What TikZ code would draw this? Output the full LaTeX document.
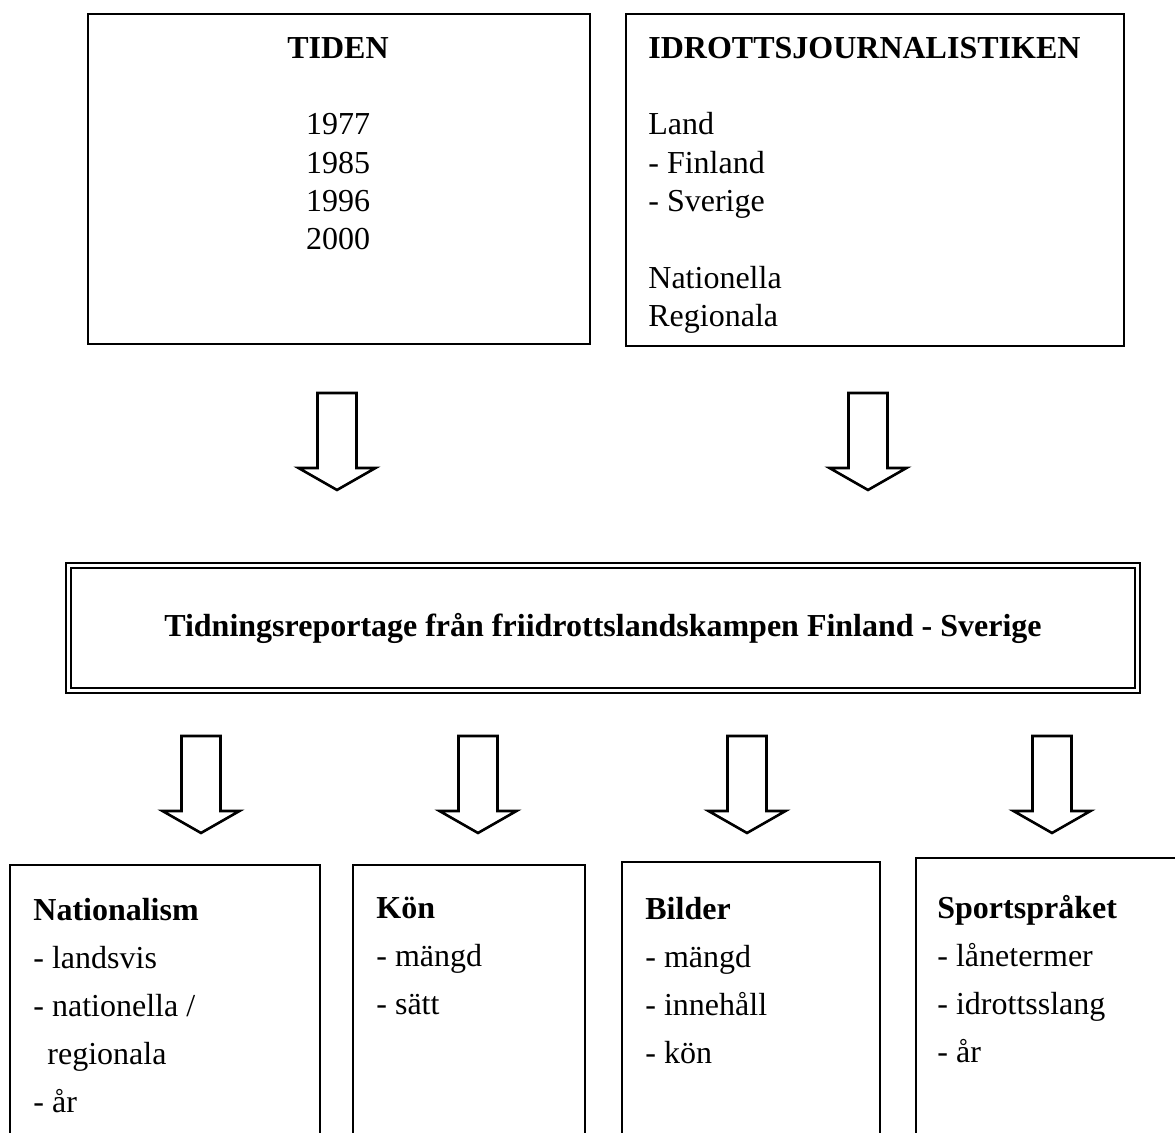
\documentclass[tikz,border=0pt]{standalone}
\usepackage{fontspec}
\setmainfont{Liberation Serif}
\usetikzlibrary{positioning}

\tikzset{
  boxline/.style={line width=1.1pt},
  toptxt/.style={inner sep=0pt, font=\fontsize{16}{19.2}\selectfont},
  listtxt/.style={inner sep=0pt, align=left, anchor=north west, font=\fontsize{16}{24}\selectfont},
  blockarrow/.pic={
    \draw[line width=1.3pt] (-19.5,0) -- (-19.5,75) -- (-38.5,75) -- (0,97)
      -- (38.5,75) -- (19.5,75) -- (19.5,0) -- cycle;
  }
}

\begin{document}
\begin{tikzpicture}[x=0.5pt,y=-0.5pt]
  \useasboundingbox (0,0) rectangle (1175,1133);

  % the two source boxes
  \draw[boxline] (88,14) rectangle (590,344);
  \draw[boxline] (626,14) rectangle (1124,346);
  \node[toptxt, align=center, anchor=north] (tiden) at (338,37)
    {\textbf{TIDEN}\\[19pt]1977\\1985\\1996\\2000};
  \node[toptxt, align=left, anchor=north west] (idrott) at (648,37)
    {\textbf{IDROTTSJOURNALISTIKEN}\\[19pt]Land\\- Finland\\- Sverige\\[19pt]Nationella\\Regionala};

  \pic at (337,393) {blockarrow};
  \pic at (868,393) {blockarrow};

  % material
  \node[draw, double, line width=1pt, double distance=1.5pt,
        minimum width=534.5pt, minimum height=62.5pt,
        font=\fontsize{16}{19.5}\selectfont\bfseries] (reportage) at (603,628)
    {Tidningsreportage från friidrottslandskampen Finland - Sverige};

  \foreach \x in {201,478,747,1052}
    \pic at (\x,736) {blockarrow};

  % the four aspects
  \draw[boxline] (10,1133) |- (320,865) -- (320,1133);
  \draw[boxline] (353,1133) |- (585,865) -- (585,1133);
  \draw[boxline] (622,1133) |- (880,862) -- (880,1133);
  \draw[boxline] (916,1133) |- (1175,858);

  \node[listtxt] (nationalism) at (33,898)
    {\textbf{Nationalism}\\- landsvis\\- nationella /\\\hspace{7pt}regionala\\- år};
  \node[listtxt] (kon) at (376,897)
    {\textbf{Kön}\\- mängd\\- sätt};
  \node[listtxt] (bilder) at (645,897)
    {\textbf{Bilder}\\- mängd\\- innehåll\\- kön};
  \node[listtxt] (sprak) at (937,895)
    {\textbf{Sportspråket}\\- lånetermer\\- idrottsslang\\- år};
\end{tikzpicture}
\end{document}
